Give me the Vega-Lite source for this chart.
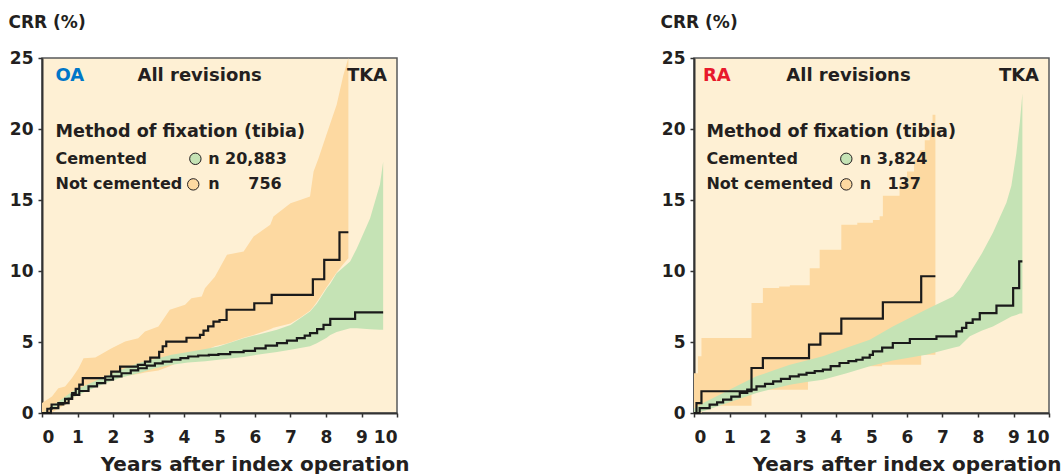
{
  "$schema": "https://vega.github.io/schema/vega-lite/v6.json",
  "background": "#ffffff",
  "padding": {"left": 7, "top": 12, "right": 5, "bottom": 2},
  "spacing": 297,
  "bounds": "flush",
  "config": {
    "view": {"fill": "#FEF0D4", "stroke": "#58595B", "strokeWidth": 1.5},
    "axis": {"grid": false, "domainColor": "#333333", "domainWidth": 2, "tickColor": "#333333", "tickSize": 4, "tickWidth": 1.5,
      "labelFont": "DejaVu Sans", "labelFontWeight": "bold", "labelFontSize": 17, "labelColor": "#231F20",
      "titleFont": "DejaVu Sans", "titleFontWeight": "bold", "titleColor": "#231F20"},
    "text": {"font": "DejaVu Sans", "fontWeight": "bold", "color": "#231F20"}
  },
  "datasets": {
    "oa_nc_band": [
      {"t": 0, "lo": 0, "crr": 0.7}, {"t": 0.28, "lo": 0.05, "crr": 1.16}, {"t": 0.46, "lo": 0.3, "crr": 1.75}, {"t": 0.65, "lo": 0.6, "crr": 1.87},
      {"t": 0.84, "lo": 1.0, "crr": 2.45}, {"t": 1.03, "lo": 1.3, "crr": 3.15}, {"t": 1.17, "lo": 1.5, "crr": 3.86}, {"t": 1.5, "lo": 1.9, "crr": 3.9},
      {"t": 1.64, "lo": 2.0, "crr": 4.1}, {"t": 1.96, "lo": 2.3, "crr": 4.56}, {"t": 2.34, "lo": 2.6, "crr": 5.03}, {"t": 2.71, "lo": 2.75, "crr": 5.27},
      {"t": 2.9, "lo": 2.85, "crr": 5.74}, {"t": 3.28, "lo": 3.0, "crr": 6.09}, {"t": 3.6, "lo": 3.3, "crr": 7.27}, {"t": 4.03, "lo": 3.8, "crr": 7.62},
      {"t": 4.21, "lo": 4.0, "crr": 8.08}, {"t": 4.5, "lo": 4.3, "crr": 8.2}, {"t": 4.59, "lo": 4.4, "crr": 8.79}, {"t": 4.87, "lo": 4.7, "crr": 9.6},
      {"t": 5.21, "lo": 4.9, "crr": 11.14}, {"t": 5.68, "lo": 5.3, "crr": 11.37}, {"t": 5.96, "lo": 5.5, "crr": 12.43}, {"t": 6.43, "lo": 5.9, "crr": 13.25},
      {"t": 6.52, "lo": 6.0, "crr": 13.84}, {"t": 7.0, "lo": 6.3, "crr": 14.77}, {"t": 7.27, "lo": 6.7, "crr": 15.0}, {"t": 7.55, "lo": 7.2, "crr": 15.25},
      {"t": 7.65, "lo": 7.5, "crr": 17.0}, {"t": 7.79, "lo": 8.0, "crr": 17.94}, {"t": 8.0, "lo": 8.8, "crr": 19.5}, {"t": 8.3, "lo": 9.9, "crr": 21.7},
      {"t": 8.49, "lo": 10.5, "crr": 23.8}, {"t": 8.63, "lo": 10.9, "crr": 25}
    ],
    "oa_c_band": [
      {"t": 0, "lo": 0, "crr": 0}, {"t": 0.46, "lo": 0.55, "crr": 0.8}, {"t": 0.84, "lo": 1.05, "crr": 1.5}, {"t": 1.31, "lo": 1.6, "crr": 2.05},
      {"t": 1.78, "lo": 2.1, "crr": 2.57}, {"t": 2.24, "lo": 2.5, "crr": 3.05}, {"t": 2.71, "lo": 2.8, "crr": 3.5}, {"t": 3.18, "lo": 3.15, "crr": 3.8},
      {"t": 3.65, "lo": 3.4, "crr": 4.1}, {"t": 4.12, "lo": 3.55, "crr": 4.3}, {"t": 4.6, "lo": 3.65, "crr": 4.5}, {"t": 4.97, "lo": 3.75, "crr": 4.68},
      {"t": 5.68, "lo": 3.95, "crr": 5.27}, {"t": 6.05, "lo": 4.1, "crr": 5.5}, {"t": 6.62, "lo": 4.3, "crr": 5.86}, {"t": 7.0, "lo": 4.45, "crr": 6.2},
      {"t": 7.55, "lo": 4.7, "crr": 7.15}, {"t": 7.74, "lo": 4.92, "crr": 7.7}, {"t": 8.02, "lo": 5.3, "crr": 8.79}, {"t": 8.12, "lo": 5.5, "crr": 9.1},
      {"t": 8.3, "lo": 5.7, "crr": 9.85}, {"t": 8.68, "lo": 5.97, "crr": 10.67}, {"t": 8.87, "lo": 5.97, "crr": 11.6}, {"t": 9.24, "lo": 5.9, "crr": 13.7},
      {"t": 9.52, "lo": 5.86, "crr": 16.1}, {"t": 9.61, "lo": 5.86, "crr": 17.7}
    ],
    "oa_nc_line": [
      {"t": 0, "crr": 0}, {"t": 0.15, "crr": 0.3}, {"t": 0.27, "crr": 0.6}, {"t": 0.6, "crr": 0.7}, {"t": 0.75, "crr": 1.0}, {"t": 0.85, "crr": 1.4},
      {"t": 0.95, "crr": 1.7}, {"t": 1.05, "crr": 2.0}, {"t": 1.15, "crr": 2.45}, {"t": 1.78, "crr": 2.57}, {"t": 1.95, "crr": 2.92}, {"t": 2.2, "crr": 3.27},
      {"t": 2.7, "crr": 3.39}, {"t": 2.9, "crr": 3.62}, {"t": 3.05, "crr": 3.9}, {"t": 3.3, "crr": 4.3}, {"t": 3.4, "crr": 4.7}, {"t": 3.5, "crr": 5.03},
      {"t": 4.07, "crr": 5.3}, {"t": 4.45, "crr": 5.5}, {"t": 4.55, "crr": 5.8}, {"t": 4.68, "crr": 6.1}, {"t": 4.83, "crr": 6.44}, {"t": 5.0, "crr": 6.55},
      {"t": 5.2, "crr": 7.27}, {"t": 5.98, "crr": 7.73}, {"t": 6.47, "crr": 8.32}, {"t": 7.63, "crr": 9.42}, {"t": 7.95, "crr": 10.79}, {"t": 8.38, "crr": 12.73},
      {"t": 8.63, "crr": 12.73}
    ],
    "oa_c_line": [
      {"t": 0, "crr": 0}, {"t": 0.25, "crr": 0.35}, {"t": 0.46, "crr": 0.69}, {"t": 0.65, "crr": 1.0}, {"t": 0.84, "crr": 1.28}, {"t": 1.05, "crr": 1.55},
      {"t": 1.31, "crr": 1.87}, {"t": 1.55, "crr": 2.1}, {"t": 1.78, "crr": 2.34}, {"t": 2.0, "crr": 2.58}, {"t": 2.24, "crr": 2.8}, {"t": 2.5, "crr": 3.0},
      {"t": 2.71, "crr": 3.15}, {"t": 2.95, "crr": 3.33}, {"t": 3.18, "crr": 3.5}, {"t": 3.4, "crr": 3.62}, {"t": 3.65, "crr": 3.75}, {"t": 3.9, "crr": 3.87},
      {"t": 4.12, "crr": 3.98}, {"t": 4.4, "crr": 4.05}, {"t": 4.7, "crr": 4.1}, {"t": 4.97, "crr": 4.15}, {"t": 5.3, "crr": 4.28}, {"t": 5.68, "crr": 4.38},
      {"t": 6.0, "crr": 4.55}, {"t": 6.3, "crr": 4.75}, {"t": 6.62, "crr": 4.92}, {"t": 6.9, "crr": 5.1}, {"t": 7.18, "crr": 5.27}, {"t": 7.4, "crr": 5.45},
      {"t": 7.55, "crr": 5.62}, {"t": 7.75, "crr": 5.9}, {"t": 7.93, "crr": 6.21}, {"t": 8.12, "crr": 6.63}, {"t": 8.82, "crr": 7.08}, {"t": 9.61, "crr": 7.08}
    ],
    "ra_nc_band": [
      {"t": 0, "lo": 0, "crr": 2.8}, {"t": 0.11, "lo": 0, "crr": 4.0}, {"t": 0.21, "lo": 0.51, "crr": 5.28}, {"t": 1.62, "lo": 1.64, "crr": 7.75},
      {"t": 1.94, "lo": 1.64, "crr": 8.8}, {"t": 2.4, "lo": 1.64, "crr": 8.9}, {"t": 2.7, "lo": 1.64, "crr": 9.0}, {"t": 3.21, "lo": 3.05, "crr": 9.0},
      {"t": 3.26, "lo": 3.05, "crr": 10.2}, {"t": 3.54, "lo": 3.05, "crr": 11.5}, {"t": 4.15, "lo": 3.3, "crr": 13.26}, {"t": 4.6, "lo": 3.3, "crr": 13.4},
      {"t": 5.04, "lo": 3.3, "crr": 13.6}, {"t": 5.23, "lo": 3.3, "crr": 13.85}, {"t": 5.3, "lo": 3.4, "crr": 13.85}, {"t": 5.32, "lo": 3.4, "crr": 15.3},
      {"t": 5.79, "lo": 3.4, "crr": 16.2}, {"t": 6.0, "lo": 3.4, "crr": 17.0}, {"t": 6.2, "lo": 3.4, "crr": 17.8}, {"t": 6.36, "lo": 3.4, "crr": 18.5},
      {"t": 6.4, "lo": 4.1, "crr": 18.5}, {"t": 6.5, "lo": 4.1, "crr": 19.2}, {"t": 6.64, "lo": 4.1, "crr": 20.0}, {"t": 6.72, "lo": 4.1, "crr": 21.0},
      {"t": 6.8, "lo": 4.1, "crr": 21.7}
    ],
    "ra_c_band": [
      {"t": 0, "lo": 0, "crr": 0.3}, {"t": 0.3, "lo": 0.15, "crr": 0.75}, {"t": 0.82, "lo": 0.59, "crr": 1.41}, {"t": 1.29, "lo": 1.0, "crr": 2.0},
      {"t": 1.76, "lo": 1.41, "crr": 2.58}, {"t": 2.23, "lo": 1.7, "crr": 3.0}, {"t": 2.7, "lo": 1.99, "crr": 3.4}, {"t": 3.17, "lo": 2.18, "crr": 3.7},
      {"t": 3.63, "lo": 2.35, "crr": 4.0}, {"t": 4.3, "lo": 2.8, "crr": 4.6}, {"t": 4.95, "lo": 3.29, "crr": 5.16}, {"t": 5.6, "lo": 3.7, "crr": 6.1},
      {"t": 6.54, "lo": 4.1, "crr": 7.28}, {"t": 7.3, "lo": 4.6, "crr": 8.2}, {"t": 7.48, "lo": 4.7, "crr": 8.7}, {"t": 7.77, "lo": 5.4, "crr": 9.86},
      {"t": 8.1, "lo": 5.8, "crr": 11.2}, {"t": 8.42, "lo": 6.1, "crr": 12.7}, {"t": 8.8, "lo": 6.6, "crr": 14.8}, {"t": 8.94, "lo": 6.8, "crr": 16.0},
      {"t": 9.08, "lo": 6.9, "crr": 18.3}, {"t": 9.18, "lo": 7.0, "crr": 20.5}, {"t": 9.25, "lo": 7.0, "crr": 22.5}
    ],
    "ra_nc_line": [
      {"t": 0, "crr": 0}, {"t": 0.07, "crr": 0.7}, {"t": 0.21, "crr": 1.53}, {"t": 1.62, "crr": 3.17}, {"t": 1.94, "crr": 3.87}, {"t": 3.24, "crr": 4.81},
      {"t": 3.56, "crr": 5.59}, {"t": 4.15, "crr": 6.64}, {"t": 5.32, "crr": 7.8}, {"t": 6.4, "crr": 9.63}, {"t": 6.8, "crr": 9.63}
    ],
    "ra_c_line": [
      {"t": 0, "crr": 0}, {"t": 0.16, "crr": 0.35}, {"t": 0.44, "crr": 0.59}, {"t": 0.65, "crr": 0.75}, {"t": 0.82, "crr": 0.94}, {"t": 1.05, "crr": 1.15},
      {"t": 1.29, "crr": 1.41}, {"t": 1.5, "crr": 1.65}, {"t": 1.76, "crr": 1.88}, {"t": 2.0, "crr": 2.05}, {"t": 2.23, "crr": 2.23}, {"t": 2.45, "crr": 2.4},
      {"t": 2.7, "crr": 2.58}, {"t": 2.95, "crr": 2.7}, {"t": 3.17, "crr": 2.82}, {"t": 3.4, "crr": 2.95}, {"t": 3.63, "crr": 3.05}, {"t": 3.85, "crr": 3.3},
      {"t": 4.1, "crr": 3.52}, {"t": 4.35, "crr": 3.65}, {"t": 4.57, "crr": 3.75}, {"t": 4.75, "crr": 3.9}, {"t": 4.95, "crr": 4.1}, {"t": 5.04, "crr": 4.34},
      {"t": 5.3, "crr": 4.6}, {"t": 5.6, "crr": 4.93}, {"t": 6.08, "crr": 5.21}, {"t": 6.83, "crr": 5.4}, {"t": 7.39, "crr": 5.75}, {"t": 7.55, "crr": 6.0},
      {"t": 7.67, "crr": 6.34}, {"t": 7.85, "crr": 6.6}, {"t": 8.05, "crr": 7.04}, {"t": 8.52, "crr": 7.56}, {"t": 8.99, "crr": 8.8}, {"t": 9.16, "crr": 10.68},
      {"t": 9.25, "crr": 10.68}
    ],
    "oa_text": [
      {"label": "All revisions", "t": 2.69, "crr": 23.7, "size": "big"},
      {"label": "Method of fixation (tibia)", "t": 0.38, "crr": 19.8, "size": "mid"},
      {"label": "Cemented", "t": 0.38, "crr": 17.9, "size": "small"},
      {"label": "Not cemented", "t": 0.38, "crr": 16.1, "size": "small"},
      {"label": "n 20,883", "t": 4.68, "crr": 17.9, "size": "small"},
      {"label": "n", "t": 4.68, "crr": 16.1, "size": "small"},
      {"label": "756", "t": 5.81, "crr": 16.1, "size": "small"}
    ],
    "ra_text": [
      {"label": "All revisions", "t": 2.6, "crr": 23.7, "size": "big"},
      {"label": "Method of fixation (tibia)", "t": 0.35, "crr": 19.8, "size": "mid"},
      {"label": "Cemented", "t": 0.35, "crr": 17.9, "size": "small"},
      {"label": "Not cemented", "t": 0.35, "crr": 16.1, "size": "small"},
      {"label": "n 3,824", "t": 4.67, "crr": 17.9, "size": "small"},
      {"label": "n", "t": 4.67, "crr": 16.1, "size": "small"},
      {"label": "137", "t": 5.45, "crr": 16.1, "size": "small"}
    ],
    "oa_head": [{"label": "OA", "t": 0.38, "crr": 23.7}],
    "ra_head": [{"label": "RA", "t": 0.25, "crr": 23.7}],
    "tka": [{"label": "TKA", "t": 9.72, "crr": 23.7}],
    "oa_dots": [{"series": "Cemented", "t": 4.32, "crr": 17.9}, {"series": "Not cemented", "t": 4.26, "crr": 16.1}],
    "ra_dots": [{"series": "Cemented", "t": 4.29, "crr": 17.9}, {"series": "Not cemented", "t": 4.29, "crr": 16.1}]
  },
  "hconcat": [
    {
      "width": 355, "height": 355,
      "encoding": {
        "x": {"field": "t", "type": "quantitative", "scale": {"domain": [0, 10], "nice": false},
          "axis": {"values": [0,1,2,3,4,5,6,7,8,9,10], "labelPadding": 12, "title": "Years after index operation", "titleFontSize": 20, "titleAlign": "right", "titleBaseline": "alphabetic", "titleX": 367, "titleY": 57}},
        "y": {"field": "crr", "type": "quantitative", "scale": {"domain": [0, 25], "nice": false},
          "axis": {"values": [0,5,10,15,20,25], "labelPadding": 5, "title": "CRR (%)", "titleFontSize": 17, "titleAngle": 0, "titleAlign": "left", "titleBaseline": "alphabetic", "titleX": -34, "titleY": -31}}
      },
      "layer": [
        {"data": {"name": "oa_nc_band"}, "mark": {"type": "area", "color": "#FDD9A1", "interpolate": "linear"}, "encoding": {"y2": {"field": "lo"}}},
        {"data": {"name": "oa_c_band"}, "mark": {"type": "area", "color": "#C5E3B5", "interpolate": "linear"}, "encoding": {"y2": {"field": "lo"}}},
        {"data": {"name": "oa_c_line"}, "mark": {"type": "line", "color": "#1A1A1A", "strokeWidth": 2.2, "interpolate": "step-after"}, "encoding": {}},
        {"data": {"name": "oa_nc_line"}, "mark": {"type": "line", "color": "#1A1A1A", "strokeWidth": 2.2, "interpolate": "step-after"}, "encoding": {}},
        {"data": {"name": "oa_text"}, "transform": [{"filter": "datum.size === 'big'"}], "mark": {"type": "text", "align": "left", "baseline": "middle", "fontSize": 18}, "encoding": {"text": {"field": "label"}}},
        {"data": {"name": "oa_text"}, "transform": [{"filter": "datum.size === 'mid'"}], "mark": {"type": "text", "align": "left", "baseline": "middle", "fontSize": 17.6}, "encoding": {"text": {"field": "label"}}},
        {"data": {"name": "oa_text"}, "transform": [{"filter": "datum.size === 'small'"}], "mark": {"type": "text", "align": "left", "baseline": "middle", "fontSize": 16}, "encoding": {"text": {"field": "label"}}},
        {"data": {"name": "oa_head"}, "mark": {"type": "text", "align": "left", "baseline": "middle", "fontSize": 18, "color": "#0077C8"}, "encoding": {"text": {"field": "label"}}},
        {"data": {"name": "tka"}, "mark": {"type": "text", "align": "right", "baseline": "middle", "fontSize": 18}, "encoding": {"text": {"field": "label"}}},
        {"data": {"name": "oa_dots"}, "mark": {"type": "point", "shape": "circle", "filled": true, "size": 130, "stroke": "#231F20", "strokeWidth": 1, "opacity": 1},
          "encoding": {"fill": {"field": "series", "type": "nominal", "scale": {"domain": ["Cemented", "Not cemented"], "range": ["#C5E3B5", "#FDD9A1"]}, "legend": null}}}
      ]
    },
    {
      "width": 355, "height": 355,
      "encoding": {
        "x": {"field": "t", "type": "quantitative", "scale": {"domain": [0, 10], "nice": false},
          "axis": {"values": [0,1,2,3,4,5,6,7,8,9,10], "labelPadding": 12, "title": "Years after index operation", "titleFontSize": 20, "titleAlign": "right", "titleBaseline": "alphabetic", "titleX": 367, "titleY": 57}},
        "y": {"field": "crr", "type": "quantitative", "scale": {"domain": [0, 25], "nice": false},
          "axis": {"values": [0,5,10,15,20,25], "labelPadding": 5, "title": "CRR (%)", "titleFontSize": 17, "titleAngle": 0, "titleAlign": "left", "titleBaseline": "alphabetic", "titleX": -34, "titleY": -31}}
      },
      "layer": [
        {"data": {"name": "ra_nc_band"}, "mark": {"type": "area", "color": "#FDD9A1", "interpolate": "step-after"}, "encoding": {"y2": {"field": "lo"}}},
        {"data": {"name": "ra_c_band"}, "mark": {"type": "area", "color": "#C5E3B5", "interpolate": "linear"}, "encoding": {"y2": {"field": "lo"}}},
        {"data": {"name": "ra_c_line"}, "mark": {"type": "line", "color": "#1A1A1A", "strokeWidth": 2.2, "interpolate": "step-after"}, "encoding": {}},
        {"data": {"name": "ra_nc_line"}, "mark": {"type": "line", "color": "#1A1A1A", "strokeWidth": 2.2, "interpolate": "step-after"}, "encoding": {}},
        {"data": {"name": "ra_text"}, "transform": [{"filter": "datum.size === 'big'"}], "mark": {"type": "text", "align": "left", "baseline": "middle", "fontSize": 18}, "encoding": {"text": {"field": "label"}}},
        {"data": {"name": "ra_text"}, "transform": [{"filter": "datum.size === 'mid'"}], "mark": {"type": "text", "align": "left", "baseline": "middle", "fontSize": 17.6}, "encoding": {"text": {"field": "label"}}},
        {"data": {"name": "ra_text"}, "transform": [{"filter": "datum.size === 'small'"}], "mark": {"type": "text", "align": "left", "baseline": "middle", "fontSize": 16}, "encoding": {"text": {"field": "label"}}},
        {"data": {"name": "ra_head"}, "mark": {"type": "text", "align": "left", "baseline": "middle", "fontSize": 18, "color": "#E8192C"}, "encoding": {"text": {"field": "label"}}},
        {"data": {"name": "tka"}, "mark": {"type": "text", "align": "right", "baseline": "middle", "fontSize": 18}, "encoding": {"text": {"field": "label"}}},
        {"data": {"name": "ra_dots"}, "mark": {"type": "point", "shape": "circle", "filled": true, "size": 130, "stroke": "#231F20", "strokeWidth": 1, "opacity": 1},
          "encoding": {"fill": {"field": "series", "type": "nominal", "scale": {"domain": ["Cemented", "Not cemented"], "range": ["#C5E3B5", "#FDD9A1"]}, "legend": null}}}
      ]
    }
  ]
}
